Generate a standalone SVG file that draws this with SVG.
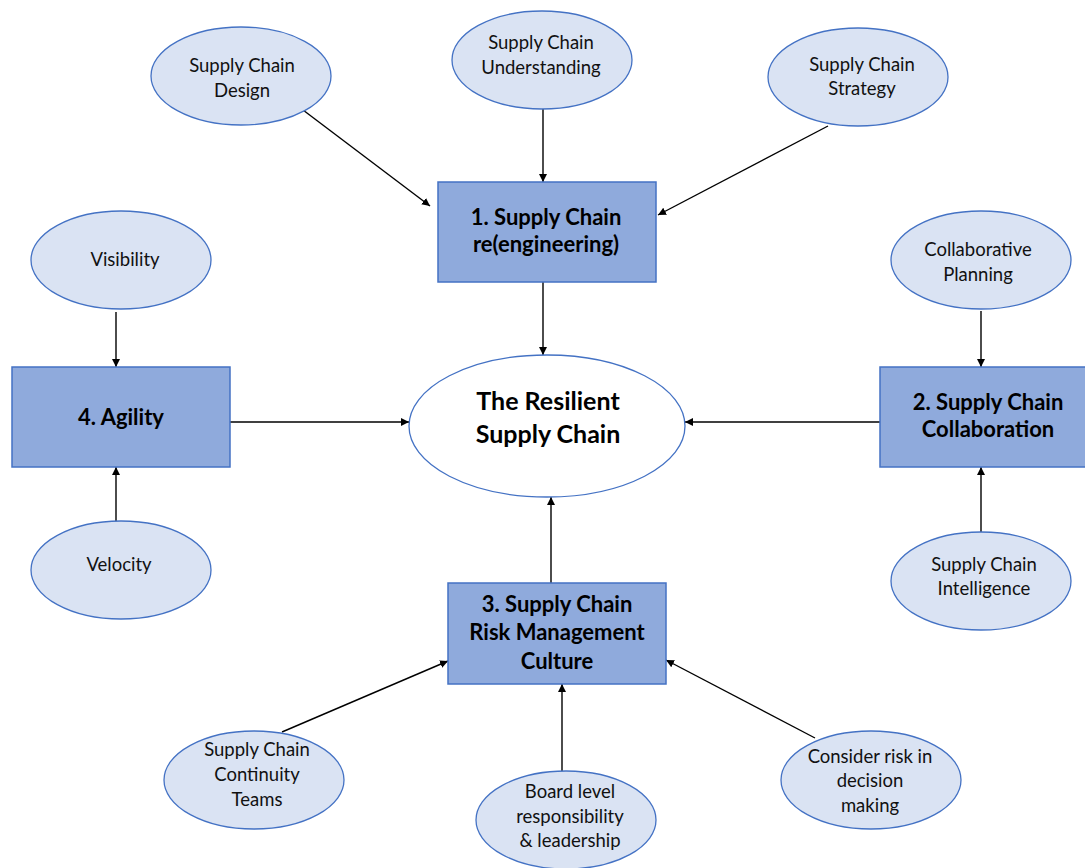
<svg xmlns="http://www.w3.org/2000/svg" width="1085" height="868" viewBox="0 0 1085 868">
<defs>
<marker id="ah" viewBox="0 0 10 10" refX="10" refY="5" markerWidth="8" markerHeight="8" markerUnits="userSpaceOnUse" orient="auto">
<path d="M0,0 L10,5 L0,10 z" fill="#000"/>
</marker>
<style>
.sub{fill:#dae3f3;stroke:#4472c4;stroke-width:1.3}
.box{fill:#8faadc;stroke:#4472c4;stroke-width:1.5}
.core{fill:#fff;stroke:#4472c4;stroke-width:1.3}
.t{font-family:Lato,"Open Sans",sans-serif;font-size:18.5px;fill:#111;text-anchor:middle}
.b{font-family:Lato,"Open Sans",sans-serif;font-size:22px;font-weight:bold;fill:#000;text-anchor:middle}
.big{font-size:25px}
.c{stroke:#000;stroke-width:1.4;fill:none;marker-end:url(#ah)}
</style>
</defs>
<rect width="1085" height="868" fill="#fff"/>
<g id="connectors">
<line class="c" x1="303" y1="110" x2="430" y2="206"/>
<line class="c" x1="543" y1="109" x2="543" y2="182"/>
<line class="c" x1="828" y1="126" x2="658" y2="215"/>
<line class="c" x1="543" y1="282" x2="543" y2="355"/>
<line class="c" x1="116" y1="312" x2="116" y2="367"/>
<line class="c" x1="116" y1="522" x2="116" y2="467"/>
<line class="c" x1="230" y1="422" x2="409" y2="422"/>
<line class="c" x1="981" y1="311" x2="981" y2="367"/>
<line class="c" x1="981" y1="532" x2="981" y2="467"/>
<line class="c" x1="880" y1="422" x2="685" y2="422"/>
<line class="c" x1="551" y1="583" x2="551" y2="497"/>
<line class="c" x1="282" y1="732" x2="448" y2="661"/>
<line class="c" x1="562" y1="771" x2="562" y2="684"/>
<line class="c" x1="815" y1="738" x2="666" y2="660"/>
</g>
<g id="n-design"><ellipse class="sub" cx="241" cy="76" rx="90" ry="49"/><text class="t" x="242" y="72">Supply Chain</text><text class="t" x="242" y="97">Design</text></g>
<g id="n-understanding"><ellipse class="sub" cx="542" cy="60" rx="90" ry="49"/><text class="t" x="541" y="49">Supply Chain</text><text class="t" x="541" y="74">Understanding</text></g>
<g id="n-strategy"><ellipse class="sub" cx="858" cy="77" rx="90" ry="49"/><text class="t" x="862" y="71">Supply Chain</text><text class="t" x="862" y="95">Strategy</text></g>
<g id="n-reengineering"><rect class="box" x="438" y="182" width="218" height="100"/><text class="b" x="546" y="225">1. Supply Chain</text><text class="b" x="546" y="252">re(engineering)</text></g>
<g id="n-core"><ellipse class="core" cx="547" cy="426" rx="138" ry="71"/><text class="b big" x="548" y="410">The Resilient</text><text class="b big" x="548" y="443">Supply Chain</text></g>
<g id="n-visibility"><ellipse class="sub" cx="121" cy="260" rx="90" ry="49"/><text class="t" x="125" y="266">Visibility</text></g>
<g id="n-agility"><rect class="box" x="12" y="367" width="218" height="100"/><text class="b" x="121" y="425">4. Agility</text></g>
<g id="n-velocity"><ellipse class="sub" cx="121" cy="570" rx="90" ry="49"/><text class="t" x="119" y="571">Velocity</text></g>
<g id="n-planning"><ellipse class="sub" cx="981" cy="260" rx="90" ry="49"/><text class="t" x="978" y="256">Collaborative</text><text class="t" x="978" y="281">Planning</text></g>
<g id="n-collaboration"><rect class="box" x="880" y="367" width="218" height="100"/><text class="b" x="988" y="410">2. Supply Chain</text><text class="b" x="988" y="437">Collaboration</text></g>
<g id="n-intelligence"><ellipse class="sub" cx="981" cy="581" rx="90" ry="49"/><text class="t" x="984" y="571">Supply Chain</text><text class="t" x="984" y="595">Intelligence</text></g>
<g id="n-risk"><rect class="box" x="448" y="583" width="218" height="101"/><text class="b" x="557" y="612">3. Supply Chain</text><text class="b" x="557" y="640">Risk Management</text><text class="b" x="557" y="669">Culture</text></g>
<g id="n-continuity"><ellipse class="sub" cx="254" cy="780" rx="90" ry="49"/><text class="t" x="257" y="756">Supply Chain</text><text class="t" x="257" y="781">Continuity</text><text class="t" x="257" y="806">Teams</text></g>
<g id="n-board"><ellipse class="sub" cx="566" cy="820" rx="90" ry="49"/><text class="t" x="570" y="798">Board level</text><text class="t" x="570" y="823">responsibility</text><text class="t" x="570" y="847">&amp; leadership</text></g>
<g id="n-decision"><ellipse class="sub" cx="871" cy="780" rx="90" ry="49"/><text class="t" x="870" y="763">Consider risk in</text><text class="t" x="870" y="787">decision</text><text class="t" x="870" y="812">making</text></g>
</svg>
